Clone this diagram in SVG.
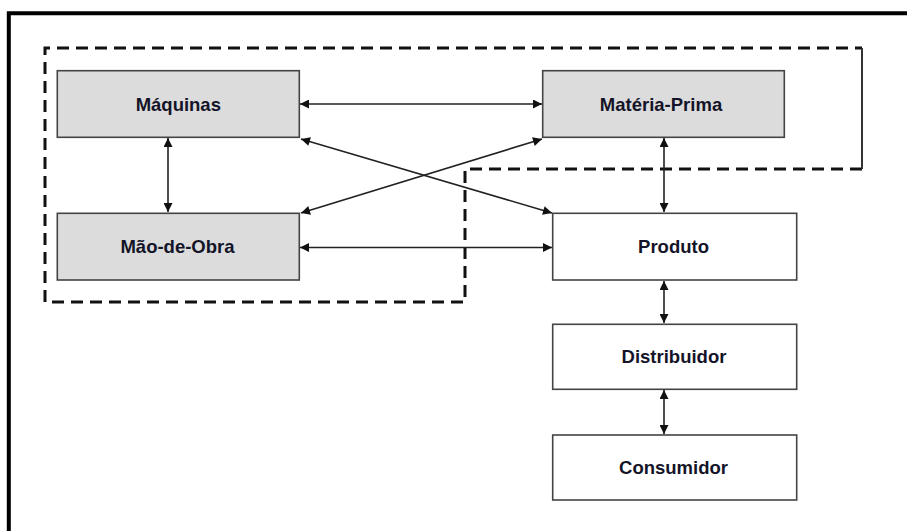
<svg xmlns="http://www.w3.org/2000/svg" width="907" height="531" viewBox="0 0 907 531">
  <defs>
    <marker id="head" viewBox="0 0 10 10" refX="10" refY="5" markerWidth="10" markerHeight="9" markerUnits="userSpaceOnUse" orient="auto-start-reverse">
      <path d="M0,0 L10,5 L0,10 Z" fill="#111"/>
    </marker>
    <style>
      .box { stroke: #444; stroke-width: 1.6; }
      .grey { fill: #dcdcdc; }
      .white { fill: #ffffff; }
      .label { font-family: "Liberation Sans", Arial, sans-serif; font-weight: bold; font-size: 18.5px; fill: #141428; text-anchor: middle; }
      .link { stroke: #222; stroke-width: 1.6; fill: none; marker-start: url(#head); marker-end: url(#head); }
      .dash { stroke: #111; stroke-width: 3; fill: none; stroke-dasharray: 12 7; }
    </style>
  </defs>

  <rect x="0" y="0" width="907" height="531" fill="#ffffff"/>

  <!-- page frame -->
  <path d="M8.8,531 V13.3 H907" fill="none" stroke="#000" stroke-width="4"/>

  <!-- production boundary -->
  <g id="boundary">
    <path class="dash" d="M862,169 H465 V302 H45 V48 H862"/>
    <line x1="862" y1="48" x2="862" y2="169" stroke="#333" stroke-width="2"/>
  </g>

  <g id="connectors">
    <line class="link" x1="300" y1="104" x2="542" y2="104"/>
    <line class="link" x1="301" y1="139" x2="552" y2="213"/>
    <line class="link" x1="301" y1="213" x2="542" y2="139"/>
    <line class="link" x1="300" y1="247.5" x2="552" y2="247.5"/>
    <line class="link" x1="168" y1="138" x2="168" y2="212"/>
    <line class="link" x1="664" y1="138" x2="664" y2="212"/>
    <line class="link" x1="664" y1="281" x2="664" y2="323"/>
    <line class="link" x1="664" y1="390" x2="664" y2="434"/>
  </g>

  <g id="maquinas">
    <rect class="box grey" x="57.3" y="70.7" width="242" height="66.6"/>
    <text class="label" x="178.3" y="110.5">Máquinas</text>
  </g>
  <g id="materia-prima">
    <rect class="box grey" x="542.7" y="70.7" width="241.6" height="66.6"/>
    <text class="label" x="661" y="110.5">Matéria-Prima</text>
  </g>
  <g id="mao-de-obra">
    <rect class="box grey" x="57.3" y="213.3" width="242" height="66.7"/>
    <text class="label" x="177.5" y="253.3">Mão-de-Obra</text>
  </g>
  <g id="produto">
    <rect class="box white" x="552.7" y="213.3" width="244" height="66.7"/>
    <text class="label" x="673.5" y="253.3">Produto</text>
  </g>
  <g id="distribuidor">
    <rect class="box white" x="552.7" y="324.3" width="244" height="65"/>
    <text class="label" x="674" y="363.3">Distribuidor</text>
  </g>
  <g id="consumidor">
    <rect class="box white" x="552.7" y="435" width="244" height="65"/>
    <text class="label" x="673.5" y="474">Consumidor</text>
  </g>
</svg>
